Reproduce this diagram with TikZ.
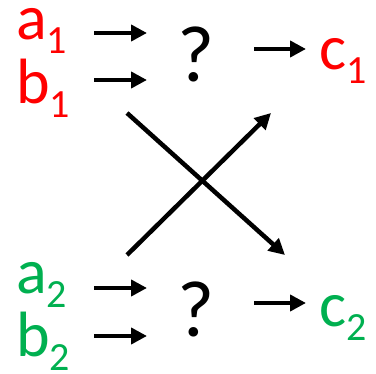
\documentclass[tikz,border=0pt]{standalone}
\usepackage{fontspec}
\setmainfont{Carlito}
\usetikzlibrary{arrows.meta}
\definecolor{myred}{RGB}{255,0,0}
\definecolor{mygreen}{RGB}{0,176,80}
\newcommand{\lbl}[2]{#1\raisebox{-14pt}{\fontsize{40}{40}\selectfont #2}}
\begin{document}
\begin{tikzpicture}[x=1pt,y=1pt,
  lettr/.style={anchor=base west, inner sep=0pt, text height=30pt, font=\fontsize{64}{64}\selectfont},
  qmark/.style={anchor=base, inner sep=0pt, font=\fontsize{80}{80}\selectfont},
  arr/.style={line width=4.5pt, -{Triangle[length=16pt,width=16pt]}}]
\useasboundingbox (0,0) rectangle (376,-374);
% top row
\node[lettr, text=myred] (a1) at (16,-40) {\lbl{a}{1}};
\node[lettr, text=myred] (b1) at (16,-104) {\lbl{b}{1}};
\node[qmark] (q1) at (196,-82) {?};
\node[lettr, text=myred] (c1) at (319,-70) {\lbl{c}{1}};
% bottom row
\node[lettr, text=mygreen] (a2) at (16,-294) {\lbl{a}{2}};
\node[lettr, text=mygreen] (b2) at (16,-357) {\lbl{b}{2}};
\node[qmark] (q2) at (196,-337) {?};
\node[lettr, text=mygreen] (c2) at (319,-327) {\lbl{c}{2}};
% arrow coordinates
\coordinate (a1s) at (94,-33);  \coordinate (a1e) at (147,-33);
\coordinate (b1s) at (94,-80);  \coordinate (b1e) at (147,-80);
\coordinate (q1s) at (254,-49); \coordinate (q1e) at (306,-49);
\coordinate (a2s) at (94,-288); \coordinate (a2e) at (147,-288);
\coordinate (b2s) at (94,-336); \coordinate (b2e) at (147,-336);
\coordinate (q2s) at (254,-303); \coordinate (q2e) at (306,-303);
\coordinate (x1s) at (127,-113); \coordinate (x1e) at (285,-255);
\coordinate (x2s) at (127,-255); \coordinate (x2e) at (271,-113);
\draw[arr] (a1s) -- (a1e);
\draw[arr] (b1s) -- (b1e);
\draw[arr] (q1s) -- (q1e);
\draw[arr] (a2s) -- (a2e);
\draw[arr] (b2s) -- (b2e);
\draw[arr] (q2s) -- (q2e);
\draw[arr] (x1s) -- (x1e);
\draw[arr] (x2s) -- (x2e);
\end{tikzpicture}
\end{document}
